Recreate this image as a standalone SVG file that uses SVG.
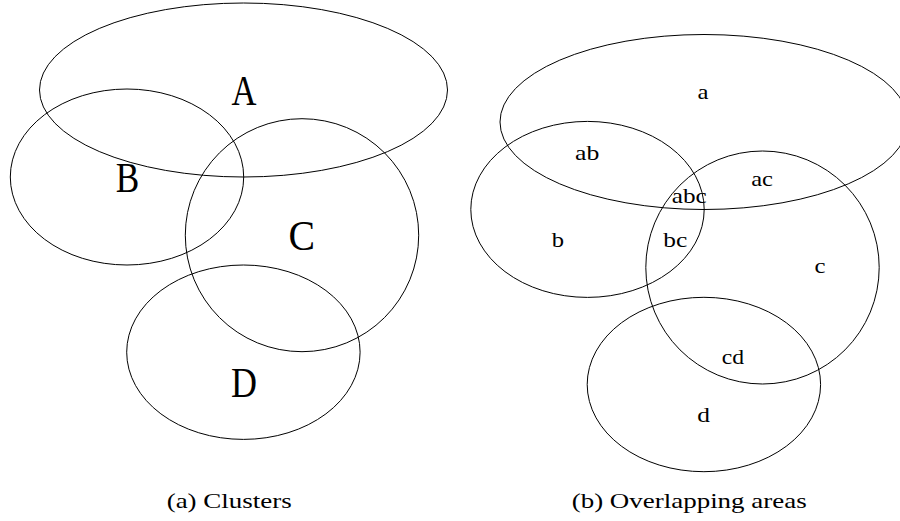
<svg xmlns="http://www.w3.org/2000/svg" width="900" height="521" viewBox="0 0 900 521">
<style>
.set{fill:none;stroke:#000;stroke-width:1}
text{fill:#000;text-anchor:middle}
.big{font-size:43px}
.small{font-size:22px}
.cap{font-size:21px}
</style>
<rect width="900" height="521" fill="#fff"/>
<g font-family="'Liberation Serif', 'DejaVu Serif', serif">
<g id="panel-a">
  <g id="A"><ellipse class="set" cx="243.5" cy="90" rx="204" ry="87"/><text class="big" x="244" y="104.5" textLength="25" lengthAdjust="spacingAndGlyphs">A</text></g>
  <g id="B"><ellipse class="set" cx="127" cy="177" rx="116.7" ry="88"/><text class="big" x="127.5" y="192" textLength="23.5" lengthAdjust="spacingAndGlyphs">B</text></g>
  <g id="C"><ellipse class="set" cx="302" cy="235.2" rx="116.7" ry="116.5"/><text class="big" x="301.7" y="250" textLength="26.5" lengthAdjust="spacingAndGlyphs">C</text></g>
  <g id="D"><ellipse class="set" cx="243.4" cy="352.2" rx="116.7" ry="87.2"/><text class="big" x="244" y="396.5" textLength="26" lengthAdjust="spacingAndGlyphs">D</text></g>
  <text id="caption-a" class="cap" x="229.2" y="507.5" textLength="125" lengthAdjust="spacingAndGlyphs">(a) Clusters</text>
</g>
<g id="panel-b">
  <g id="a-set"><ellipse class="set" cx="704" cy="122" rx="204" ry="87.5"/></g>
  <g id="b-set"><ellipse class="set" cx="587.5" cy="209.4" rx="116.7" ry="88"/></g>
  <g id="c-set"><ellipse class="set" cx="762.5" cy="267.5" rx="116.7" ry="116.5"/></g>
  <g id="d-set"><ellipse class="set" cx="703.9" cy="384.5" rx="116.7" ry="87.2"/></g>
  <g id="region-labels">
    <text class="small" x="703" y="98.5" textLength="11" lengthAdjust="spacingAndGlyphs">a</text>
    <text class="small" x="587.2" y="160" textLength="24.3" lengthAdjust="spacingAndGlyphs">ab</text>
    <text class="small" x="762" y="185.7" textLength="21.7" lengthAdjust="spacingAndGlyphs">ac</text>
    <text class="small" x="689.2" y="202.7" textLength="35" lengthAdjust="spacingAndGlyphs">abc</text>
    <text class="small" x="558" y="246.7" textLength="12.3" lengthAdjust="spacingAndGlyphs">b</text>
    <text class="small" x="675.3" y="246.7" textLength="24" lengthAdjust="spacingAndGlyphs">bc</text>
    <text class="small" x="820" y="272.7" textLength="11" lengthAdjust="spacingAndGlyphs">c</text>
    <text class="small" x="732.8" y="364.3" textLength="22.3" lengthAdjust="spacingAndGlyphs">cd</text>
    <text class="small" x="703.7" y="421.7" textLength="12.7" lengthAdjust="spacingAndGlyphs">d</text>
  </g>
  <text id="caption-b" class="cap" x="689.2" y="507.5" textLength="235" lengthAdjust="spacingAndGlyphs">(b) Overlapping areas</text>
</g>
</g>
<g id="connectors"/>
</svg>
